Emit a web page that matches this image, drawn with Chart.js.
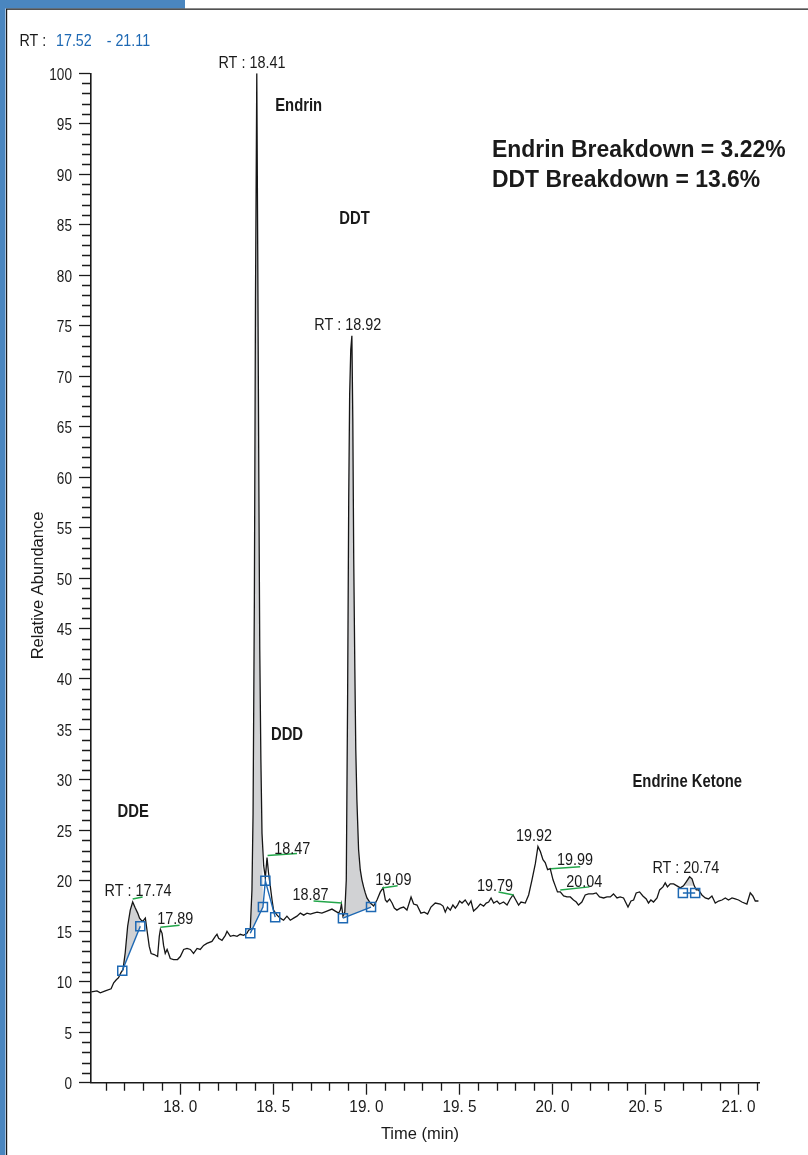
<!DOCTYPE html>
<html><head><meta charset="utf-8">
<script src="https://cdn.jsdelivr.net/npm/chart.js@4.4.1/dist/chart.umd.min.js"></script>
<style>html,body{margin:0;padding:0;background:#fff;}canvas{display:block;}</style>
</head><body>
<canvas id="c" width="808" height="1155"></canvas>
<script>
// ---------------- data ----------------
const rtWindow = [17.52, 21.11];

const traceTime = [
17.522,17.552,17.570,17.597,17.628,17.642,17.656,17.668,17.681,17.692,
17.704,17.717,17.731,17.744,17.758,17.771,17.781,17.794,17.803,17.812,
17.821,17.833,17.843,17.860,17.878,17.887,17.893,17.902,17.910,17.919,
17.929,17.937,17.946,17.964,17.985,18.000,18.018,18.036,18.054,18.071,
18.090,18.107,18.125,18.143,18.170,18.188,18.197,18.206,18.224,18.242,
18.251,18.269,18.286,18.305,18.322,18.340,18.358,18.367,18.376,18.385,
18.391,18.398,18.404,18.411,18.416,18.422,18.427,18.433,18.439,18.448,
18.457,18.466,18.474,18.484,18.493,18.501,18.520,18.537,18.555,18.573,
18.591,18.609,18.627,18.645,18.663,18.681,18.699,18.716,18.735,18.761,
18.788,18.815,18.833,18.851,18.860,18.866,18.874,18.884,18.892,18.899,
18.905,18.910,18.916,18.922,18.927,18.932,18.938,18.943,18.949,18.958,
18.967,18.976,18.985,18.994,19.003,19.021,19.039,19.057,19.075,19.090,
19.102,19.111,19.125,19.138,19.150,19.164,19.182,19.200,19.218,19.240,
19.254,19.272,19.293,19.311,19.329,19.347,19.370,19.397,19.412,19.424,
19.436,19.451,19.465,19.478,19.490,19.501,19.514,19.531,19.549,19.562,
19.576,19.594,19.612,19.630,19.644,19.657,19.670,19.684,19.702,19.716,
19.737,19.756,19.773,19.788,19.800,19.818,19.831,19.854,19.872,19.890,
19.908,19.922,19.935,19.949,19.961,19.974,19.988,20.003,20.015,20.027,
20.042,20.060,20.078,20.096,20.113,20.128,20.140,20.158,20.176,20.194,
20.218,20.235,20.253,20.275,20.293,20.311,20.328,20.347,20.364,20.382,
20.406,20.422,20.436,20.450,20.468,20.486,20.504,20.516,20.529,20.543,
20.562,20.576,20.594,20.606,20.618,20.633,20.651,20.669,20.687,20.704,
20.719,20.737,20.750,20.762,20.773,20.785,20.803,20.821,20.839,20.857,
20.875,20.893,20.911,20.929,20.946,20.965,20.982,21.000,21.018,21.045,
21.063,21.077,21.090,21.107];

const traceAbund = [
9.0,9.1,8.9,9.1,9.3,9.9,10.2,10.4,10.9,11.2,
12.9,15.5,17.1,17.9,17.3,16.8,16.3,16.0,16.1,16.3,
15.1,13.5,12.8,12.7,12.5,14.5,15.2,14.8,13.6,12.8,
13.2,12.8,12.3,12.2,12.2,12.5,13.2,13.3,13.2,12.8,
13.3,13.2,13.6,13.8,14.0,14.5,14.7,14.3,14.1,14.6,
15.0,14.5,14.6,14.5,14.7,14.6,14.8,15.1,15.2,19.1,
26.7,47.8,77.6,100.0,82.5,59.7,42.9,32.0,24.7,21.5,
20.3,22.3,20.8,19.4,18.1,17.1,16.6,16.3,16.1,16.5,
16.1,16.3,16.5,16.8,16.6,16.8,16.7,16.8,16.9,16.8,
17.0,17.2,17.0,16.8,17.1,17.7,16.5,16.9,20.1,37.9,
57.7,68.1,72.6,74.0,65.7,51.8,40.9,33.0,28.0,23.1,
21.1,20.1,19.4,18.8,18.3,17.8,17.5,18.1,18.9,19.3,
18.1,17.9,18.2,17.8,17.3,17.1,17.3,17.4,17.1,18.4,
17.7,17.6,16.8,16.9,16.7,17.4,17.8,17.7,17.5,16.9,
17.4,17.1,17.6,17.3,17.6,18.0,17.8,18.1,17.6,18.0,
17.0,17.3,17.7,17.5,17.8,17.9,18.3,17.8,18.0,17.7,
17.9,17.6,18.2,18.6,18.2,17.6,17.9,17.8,18.6,20.1,
21.7,23.4,22.9,22.1,21.8,21.1,21.2,20.1,19.5,18.9,
18.9,18.5,18.4,18.4,18.1,17.9,17.6,17.9,18.6,18.7,
18.7,18.8,18.4,18.3,18.4,18.4,18.7,18.3,18.4,18.3,
17.4,18.0,18.1,18.8,18.9,18.5,18.2,17.8,18.1,17.9,
18.3,19.1,19.4,19.8,19.4,19.7,19.7,19.5,19.3,19.5,
19.9,20.4,20.2,19.5,19.1,19.1,18.6,18.3,18.2,18.5,
17.8,18.0,18.1,18.3,18.1,18.3,18.2,18.1,17.9,17.7,
18.8,18.5,18.0,18.0];

const xTickValues = [18.0, 18.5, 19.0, 19.5, 20.0, 20.5, 21.0];
const xTickLabels = ['18. 0', '18. 5', '19. 0', '19. 5', '20. 0', '20. 5', '21. 0'];
const yTickValues = [0,5,10,15,20,25,30,35,40,45,50,55,60,65,70,75,80,85,90,95,100];

// integration baselines (time, abundance)
const ddeBaseTime = [17.688, 17.785];
const ddeBaseAbund = [11.1, 15.5];
const endrinBaseTime = [18.376, 18.444, 18.457, 18.510];
const endrinBaseAbund = [14.8, 17.4, 20.0, 16.4];
const ddtBaseTime = [18.874, 19.025];
const ddtBaseAbund = [16.3, 17.4];
const ketoneBaseTime = [20.701, 20.767];
const ketoneBaseAbund = [18.8, 18.8];
const ketoneAreaTime = [20.704, 20.762];

// peak annotations
const peakLabelText = ['RT : 17.74','17.89','18.47','18.87','19.09','19.79','19.92','19.99','20.04','RT : 20.74','RT : 18.41','RT : 18.92'];
const peakLabelTime = [17.773, 17.973, 18.602, 18.700, 19.145, 19.691, 19.901, 20.121, 20.171, 20.717, 18.385, 18.900];
const peakLabelAbund = [18.45, 15.7, 22.7, 18.1, 19.6, 19.0, 23.9, 21.6, 19.4, 20.8, 100.5, 74.6];

const leaderT0 = [17.744, 17.893, 18.469, 18.716, 19.084, 19.710, 19.992, 20.042];
const leaderA0 = [18.2, 15.4, 22.5, 18.0, 19.3, 18.9, 21.2, 19.1];
const leaderT1 = [17.797, 17.996, 18.627, 18.869, 19.168, 19.791, 20.149, 20.199];
const leaderA1 = [18.4, 15.6, 22.7, 17.8, 19.5, 18.6, 21.4, 19.4];

const compoundNames = ['Endrin', 'DDT', 'DDD', 'DDE', 'Endrine Ketone'];
const compoundTime = [18.510, 18.854, 18.487, 17.663, 20.430];
const compoundAbund = [96.3, 85.1, 34.0, 26.3, 29.3];

const breakdownLines = ['Endrin Breakdown = 3.22%', 'DDT Breakdown = 13.6%'];

// ---------------- styling ----------------
const SANS = '"Liberation Sans", Arial, sans-serif';
const INK = '#1a1a1a';
const BLUE = '#1d68b3';
const GREEN = '#23a64a';
const GRAY = '#d1d2d4';

const trace = traceTime.map((t, i) => ({x: t, y: traceAbund[i]}));
const pts = (T, A) => T.map((t, i) => ({x: t, y: A[i]}));

function peakArea(T, A) {
  const t0 = T[0], t1 = T[1];
  const out = [{x: t0, y: A[0]}];
  traceTime.forEach((t, i) => { if (t > t0 && t < t1) out.push({x: t, y: traceAbund[i]}); });
  out.push({x: t1, y: A[1]});
  return out;
}
function traceSlice(t0, t1) {
  const out = [];
  traceTime.forEach((t, i) => { if (t >= t0 && t <= t1) out.push({x: t, y: traceAbund[i]}); });
  return out;
}

const baseDs = (data) => ({
  data, borderColor: BLUE, borderWidth: 1.4, tension: 0, fill: false,
  pointStyle: 'rect', pointRadius: 6.4, pointBorderColor: BLUE, pointBorderWidth: 1.5,
  pointBackgroundColor: 'rgba(0,0,0,0)'
});
const areaDs = (data) => ({
  data, borderColor: 'rgba(0,0,0,0)', borderWidth: 0, pointRadius: 0, tension: 0,
  backgroundColor: GRAY, fill: 'shape'
});

// condensed text: regular sans squeezed horizontally
function ctext(ctx, s, x, y, font, sx, align) {
  ctx.save();
  ctx.font = font;
  ctx.textAlign = align;
  ctx.textBaseline = 'alphabetic';
  ctx.translate(x, y);
  ctx.scale(sx, 1);
  ctx.fillText(s, 0, 0);
  ctx.restore();
}

// ---------------- plugin: frame, minor ticks, labels, annotations ----------------
const decor = {
  id: 'decor',
  beforeDraw(chart) {
    const ctx = chart.ctx;
    ctx.save();
    ctx.fillStyle = '#ffffff';
    ctx.fillRect(0, 0, chart.width, chart.height);
    ctx.fillStyle = '#4a86bf';
    ctx.fillRect(0, 0, 5.5, chart.height);
    ctx.fillRect(0, 0, 185, 8.5);
    ctx.strokeStyle = INK; ctx.lineWidth = 1.2;
    ctx.beginPath();
    ctx.moveTo(6.6, chart.height); ctx.lineTo(6.6, 9.2); ctx.lineTo(chart.width, 9.2);
    ctx.stroke();
    ctx.restore();
  },
  afterDraw(chart) {
    const ctx = chart.ctx, xs = chart.scales.x, ys = chart.scales.y, ca = chart.chartArea;
    ctx.save();
    // minor ticks
    ctx.strokeStyle = INK; ctx.lineWidth = 1.3;
    ctx.beginPath();
    for (let k = Math.ceil(rtWindow[0] * 10); k <= Math.floor(rtWindow[1] * 10); k++) {
      if (k % 5 === 0) continue;
      const px = Math.round(xs.getPixelForValue(k / 10)) + 0.5;
      ctx.moveTo(px, ca.bottom); ctx.lineTo(px, ca.bottom + 8);
    }
    for (let k = 0; k <= 100; k++) {
      if (k % 5 === 0) continue;
      const py = Math.round(ys.getPixelForValue(k)) + 0.5;
      ctx.moveTo(ca.left - 9, py); ctx.lineTo(ca.left, py);
    }
    ctx.stroke();

    // tick labels (condensed)
    ctx.fillStyle = INK;
    xTickValues.forEach((v, i) => {
      ctext(ctx, xTickLabels[i], xs.getPixelForValue(v), ca.bottom + 29, '17px ' + SANS, 0.9, 'center');
    });
    yTickValues.forEach(v => {
      ctext(ctx, String(v), ca.left - 19, ys.getPixelForValue(v) + 6.5, '17px ' + SANS, 0.8, 'right');
    });

    // green leader lines
    ctx.strokeStyle = GREEN; ctx.lineWidth = 1.5;
    ctx.beginPath();
    leaderT0.forEach((t, i) => {
      ctx.moveTo(xs.getPixelForValue(t), ys.getPixelForValue(leaderA0[i]));
      ctx.lineTo(xs.getPixelForValue(leaderT1[i]), ys.getPixelForValue(leaderA1[i]));
    });
    ctx.stroke();

    // peak labels
    ctx.fillStyle = INK;
    peakLabelText.forEach((s, i) => {
      ctext(ctx, s, xs.getPixelForValue(peakLabelTime[i]), ys.getPixelForValue(peakLabelAbund[i]), '16px ' + SANS, 0.9, 'center');
    });

    // compound names
    compoundNames.forEach((s, i) => {
      ctext(ctx, s, xs.getPixelForValue(compoundTime[i]), ys.getPixelForValue(compoundAbund[i]), 'bold 19px ' + SANS, 0.78, 'left');
    });

    // breakdown summary
    ctext(ctx, breakdownLines[0], 492, 156.7, 'bold 24px ' + SANS, 0.955, 'left');
    ctext(ctx, breakdownLines[1], 492, 186.7, 'bold 24px ' + SANS, 0.955, 'left');

    // RT window header
    ctx.fillStyle = INK;
    ctext(ctx, 'RT :', 19.5, 46, '17px ' + SANS, 0.84, 'left');
    ctx.fillStyle = BLUE;
    ctext(ctx, rtWindow[0].toFixed(2), 56, 46, '17px ' + SANS, 0.84, 'left');
    ctext(ctx, '- ' + rtWindow[1].toFixed(2), 106.7, 46, '17px ' + SANS, 0.84, 'left');

    // axis titles
    ctx.fillStyle = INK;
    ctext(ctx, 'Time (min)', 420, 1139, '16.5px ' + SANS, 1, 'center');
    ctx.translate(42.5, 585.5);
    ctx.rotate(-Math.PI / 2);
    ctext(ctx, 'Relative Abundance', 0, 0, '16.5px ' + SANS, 1, 'center');
    ctx.restore();
  }
};

new Chart(document.getElementById('c'), {
  type: 'line',
  data: {
    datasets: [
      baseDs(pts(ddeBaseTime, ddeBaseAbund)),
      baseDs(pts(endrinBaseTime, endrinBaseAbund)),
      baseDs(pts(ddtBaseTime, ddtBaseAbund)),
      baseDs(pts(ketoneBaseTime, ketoneBaseAbund)),
      {data: trace, borderColor: '#161616', borderWidth: 1.3, pointRadius: 0, tension: 0, fill: false},
      areaDs(peakArea(ddeBaseTime, ddeBaseAbund)),
      areaDs(peakArea(endrinBaseTime.slice(0, 2), endrinBaseAbund.slice(0, 2))),
      areaDs(peakArea(ddtBaseTime, ddtBaseAbund)),
      areaDs(traceSlice(ketoneAreaTime[0], ketoneAreaTime[1]))
    ]
  },
  options: {
    responsive: false, animation: false, devicePixelRatio: 1, events: [],
    layout: {padding: {top: 73.3, right: 49, bottom: 0, left: 0}},
    plugins: {legend: {display: false}, tooltip: {enabled: false}},
    scales: {
      x: {
        type: 'linear', min: rtWindow[0], max: rtWindow[1],
        afterBuildTicks: s => { s.ticks = xTickValues.map(v => ({value: v})); },
        afterFit: s => { s.height = 72.3; },
        grid: {display: true, drawOnChartArea: false, drawTicks: true, tickLength: 12, tickColor: INK, tickWidth: 1.3},
        border: {display: true, color: INK, width: 1.6},
        ticks: {display: false}
      },
      y: {
        min: 0, max: 100,
        afterBuildTicks: s => { s.ticks = yTickValues.map(v => ({value: v})); },
        afterFit: s => { s.width = 91; },
        grid: {display: true, drawOnChartArea: false, drawTicks: true, tickLength: 12, tickColor: INK, tickWidth: 1.3},
        border: {display: true, color: INK, width: 1.6},
        ticks: {display: false}
      }
    }
  },
  plugins: [decor]
});
</script>
</body></html>
